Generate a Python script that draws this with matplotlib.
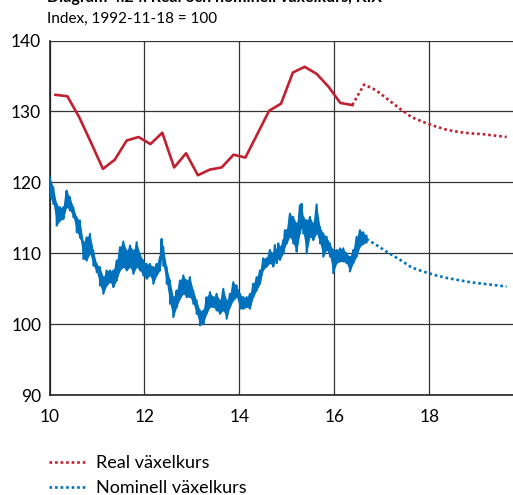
import numpy as np
import matplotlib
matplotlib.use("Agg")
import matplotlib.pyplot as plt
from matplotlib.lines import Line2D

plt.rcParams['font.family'] = ['Lato', 'DejaVu Sans']

# --- Real exchange rate (quarterly), outcome and forecast ---
real_t = [10.125, 10.375, 10.625, 10.875, 11.125, 11.375, 11.625, 11.875,
          12.125, 12.375, 12.625, 12.875, 13.125, 13.375, 13.625, 13.875,
          14.125, 14.375, 14.625, 14.875, 15.125, 15.375, 15.625, 15.875,
          16.125, 16.375]
real_v = [132.35, 132.15, 129.2, 125.6, 121.9, 123.2, 125.9, 126.4,
          125.4, 127.0, 122.1, 124.1, 121.0, 121.8, 122.1, 123.9,
          123.5, 126.8, 130.1, 131.1, 135.5, 136.3, 135.3, 133.5,
          131.2, 130.9]
real_fc_t = [16.375, 16.625, 16.875, 17.125, 17.375, 17.625, 17.875, 18.125,
             18.375, 18.625, 18.875, 19.125, 19.375, 19.625]
real_fc_v = [130.9, 133.8, 133.0, 131.7, 130.4, 129.2, 128.5, 127.9,
             127.4, 127.1, 126.9, 126.8, 126.6, 126.4]

# --- Nominal exchange rate (daily), sampled as daily high/low envelope ---
nom_t = [10.011, 10.081, 10.151, 10.221, 10.291, 10.361, 10.432, 10.502,
         10.572, 10.642, 10.712, 10.782, 10.853, 10.923, 10.993, 11.063,
         11.133, 11.203, 11.274, 11.344, 11.414, 11.484, 11.554, 11.625,
         11.695, 11.765, 11.835, 11.905, 11.975, 12.046, 12.116, 12.186,
         12.256, 12.326, 12.361, 12.396, 12.467, 12.537, 12.607, 12.677,
         12.747, 12.818, 12.888, 12.958, 13.028, 13.098, 13.168, 13.239,
         13.309, 13.379, 13.449, 13.519, 13.589, 13.660, 13.730, 13.800,
         13.870, 13.940, 14.011, 14.081, 14.151, 14.221, 14.291, 14.361,
         14.432, 14.502, 14.572, 14.642, 14.712, 14.747, 14.782, 14.818,
         14.853, 14.923, 14.958, 14.993, 15.063, 15.133, 15.204, 15.274,
         15.309, 15.344, 15.414, 15.484, 15.554, 15.625, 15.695, 15.765,
         15.835, 15.905, 15.975, 16.046, 16.116, 16.186, 16.256, 16.326,
         16.396, 16.467, 16.537, 16.607, 16.677]
nom_hi = [120.71, 119.30, 116.96, 116.49, 116.49, 118.83, 117.89, 116.49,
          115.08, 114.61, 111.56, 112.26, 112.73, 110.38, 108.50, 108.04,
          106.63, 107.57, 107.57, 107.57, 108.97, 110.85, 111.65, 110.38,
          111.09, 110.38, 111.56, 109.91, 108.97, 108.50, 108.50, 108.04,
          108.50, 109.44, 112.03, 110.85, 108.04, 106.16, 103.81, 104.75,
          106.16, 106.86, 106.16, 106.63, 104.75, 103.34, 101.93, 101.93,
          103.81, 104.51, 103.81, 104.28, 103.34, 104.98, 103.34, 104.28,
          105.92, 105.45, 104.28, 103.81, 103.81, 104.28, 105.69, 106.63,
          107.57, 109.29, 109.29, 110.46, 109.99, 111.16, 110.46, 111.39,
          110.92, 111.86, 113.25, 113.25, 115.59, 115.12, 114.19, 116.75,
          116.98, 115.12, 114.65, 115.12, 114.19, 116.89, 113.72, 112.79,
          112.32, 111.39, 110.46, 110.46, 110.69, 110.69, 109.99, 109.52,
          110.46, 112.32, 113.25, 112.96, 112.49]
nom_lo = [117.89, 116.96, 113.90, 114.61, 114.84, 116.49, 116.02, 115.08,
          112.96, 112.26, 109.21, 108.97, 109.91, 108.27, 107.33, 105.45,
          104.28, 105.45, 105.92, 105.22, 106.16, 107.57, 108.04, 107.57,
          108.04, 107.10, 108.04, 107.57, 106.86, 106.39, 106.86, 105.69,
          106.86, 107.57, 109.44, 108.27, 105.69, 102.87, 100.99, 102.40,
          103.57, 104.28, 103.81, 103.81, 102.87, 101.46, 99.82, 100.05,
          101.46, 102.40, 102.40, 101.93, 101.46, 101.93, 100.76, 102.40,
          103.34, 103.81, 102.17, 102.17, 102.40, 102.17, 103.81, 104.75,
          105.69, 107.66, 108.13, 108.59, 108.13, 109.06, 108.59, 109.29,
          109.06, 109.99, 110.92, 111.39, 112.32, 111.39, 110.22, 112.79,
          113.72, 112.79, 109.99, 112.32, 111.86, 112.79, 111.39, 109.52,
          110.46, 109.52, 107.19, 108.59, 108.83, 108.83, 108.59, 107.43,
          108.59, 109.52, 110.92, 111.32, 111.55]
nom_fc_t = [16.677, 16.875, 17.125, 17.375, 17.625, 17.875, 18.125, 18.375,
            18.625, 18.875, 19.125, 19.375, 19.625]
nom_fc_v = [112.0, 111.2, 110.1, 109.1, 108.0, 107.4, 106.9, 106.5,
            106.2, 105.9, 105.7, 105.5, 105.3]

x_ticks = [10, 12, 14, 16, 18]
y_ticks = [90, 100, 110, 120, 130, 140]
legend_labels = ["Real växelkurs", "Nominell växelkurs"]
title = "Diagram 4.24. Real och nominell växelkurs, KIX"
subtitle = "Index, 1992-11-18 = 100"

RED = "#C0202F"
BLUE = "#0071BC"

fig = plt.figure(figsize=(5.13, 4.95), dpi=100)
ax = fig.add_axes([0.0965, 0.202, 0.9035, 0.716])

# daily range: filled envelope plus a zigzag for the jagged edges
ax.fill_between(nom_t, nom_lo, nom_hi, color=BLUE, lw=0, zorder=3)
zz_t = np.column_stack([nom_t, nom_t]).ravel()
zz_v = np.column_stack([nom_hi, nom_lo]).ravel()
ax.plot(zz_t, zz_v, color=BLUE, lw=1.5, zorder=3)
ax.plot(nom_fc_t, nom_fc_v, color=BLUE, lw=1.9, ls=(0, (1, 1.1)), zorder=3)

ax.plot(real_t, real_v, color=RED, lw=1.9, zorder=4)
ax.plot(real_fc_t, real_fc_v, color=RED, lw=1.9, ls=(0, (1, 1.1)), zorder=4)

ax.set_xlim(10, 19.76)
ax.set_ylim(90, 140)
ax.set_xticks(x_ticks)
ax.set_yticks(y_ticks)
ax.grid(True, color="#333333", lw=0.9)
ax.set_axisbelow(True)
for s in ("top", "right"):
    ax.spines[s].set_visible(False)
for s in ("left", "bottom"):
    ax.spines[s].set_color("#222222")
    ax.spines[s].set_linewidth(1.2)
ax.tick_params(length=0, labelsize=12.5, colors="#000000", pad=6)
ax.tick_params(axis='x', pad=10)

fig.text(0.092, 1.004, title, fontsize=11.5, fontweight='bold', va='center', ha='left')
fig.text(0.092, 0.962, subtitle, fontsize=11, va='center', ha='left')

handles = [Line2D([0], [0], color=RED, lw=1.9, ls=(0, (1, 1.1))),
           Line2D([0], [0], color=BLUE, lw=1.9, ls=(0, (1, 1.1)))]
fig.legend(handles, legend_labels, loc='upper left', bbox_to_anchor=(0.095, 0.080),
           frameon=False, fontsize=13, handlelength=2.0, handletextpad=0.6,
           labelspacing=0.5, borderaxespad=0, borderpad=0)

fig.savefig("out.png", dpi=100)
